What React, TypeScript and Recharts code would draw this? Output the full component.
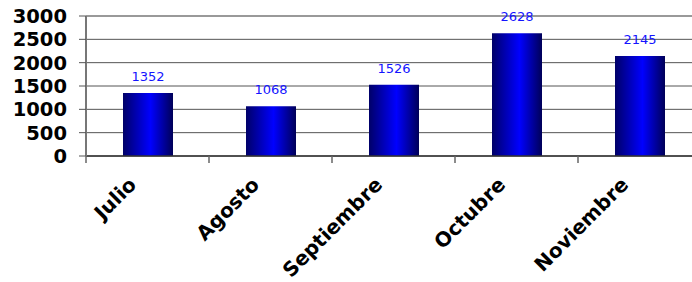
import { BarChart, Bar, XAxis, YAxis, CartesianGrid, LabelList, ReferenceLine } from 'recharts';

const months = ['Julio', 'Agosto', 'Septiembre', 'Octubre', 'Noviembre'];
const totals = [1352, 1068, 1526, 2628, 2145];
const yTicks = [0, 500, 1000, 1500, 2000, 2500, 3000];

const data = months.map((month, i) => ({ month, total: totals[i] }));

const FONT = '"DejaVu Sans", Verdana, sans-serif';

// category ticks sit on band boundaries, labels are rotated
const MonthTick = (props: any) => {
  const { x, y, payload } = props;
  const half = payload?.offset ?? 61.5;
  return (
    <g>
      <line x1={x - half} x2={x - half} y1={y} y2={y + 7} stroke="#666" strokeWidth={1.5} />
      <text
        transform={`translate(${x - 10},${y + 30}) rotate(-45)`}
        textAnchor="end"
        fontFamily={FONT}
        fontWeight="bold"
        fontSize={20}
        fill="#000"
      >
        {payload.value}
      </text>
    </g>
  );
};

export default function App() {
  return (
    <div style={{ position: 'absolute', left: 0, top: 0, width: 692, height: 282, overflow: 'hidden', background: '#fff' }}>
      <BarChart
        width={720}
        height={282}
        data={data}
        margin={{ top: 16, right: 19, bottom: 0, left: 0 }}
        barSize={50}
      >
        <defs>
          <linearGradient id="barBlue" x1="0" y1="0" x2="1" y2="0">
            <stop offset="0%" stopColor="#000068" />
            <stop offset="55%" stopColor="#0000ff" />
            <stop offset="100%" stopColor="#000058" />
          </linearGradient>
        </defs>
        <CartesianGrid vertical={false} stroke="#555" />
        <ReferenceLine y={3000} stroke="#999" strokeWidth={2} />
        <XAxis
          dataKey="month"
          height={126}
          interval={0}
          tickSize={0}
          tickMargin={0}
          tickLine={false}
          axisLine={{ stroke: '#333', strokeWidth: 1.5 }}
          tick={<MonthTick />}
        />
        <YAxis
          width={86}
          domain={[0, 3000]}
          ticks={yTicks}
          interval={0}
          tickSize={7}
          tickMargin={12}
          axisLine={{ stroke: '#777', strokeWidth: 2 }}
          tickLine={{ stroke: '#555' }}
          tick={{ fontFamily: FONT, fontWeight: 'bold', fontSize: 19.5, fill: '#000' }}
        />
        <Bar dataKey="total" fill="url(#barBlue)" isAnimationActive={false}>
          <LabelList
            dataKey="total"
            position="top"
            offset={12}
            fill="#1414ff"
            fontFamily={FONT}
            fontSize={13}
          />
        </Bar>
      </BarChart>
    </div>
  );
}
